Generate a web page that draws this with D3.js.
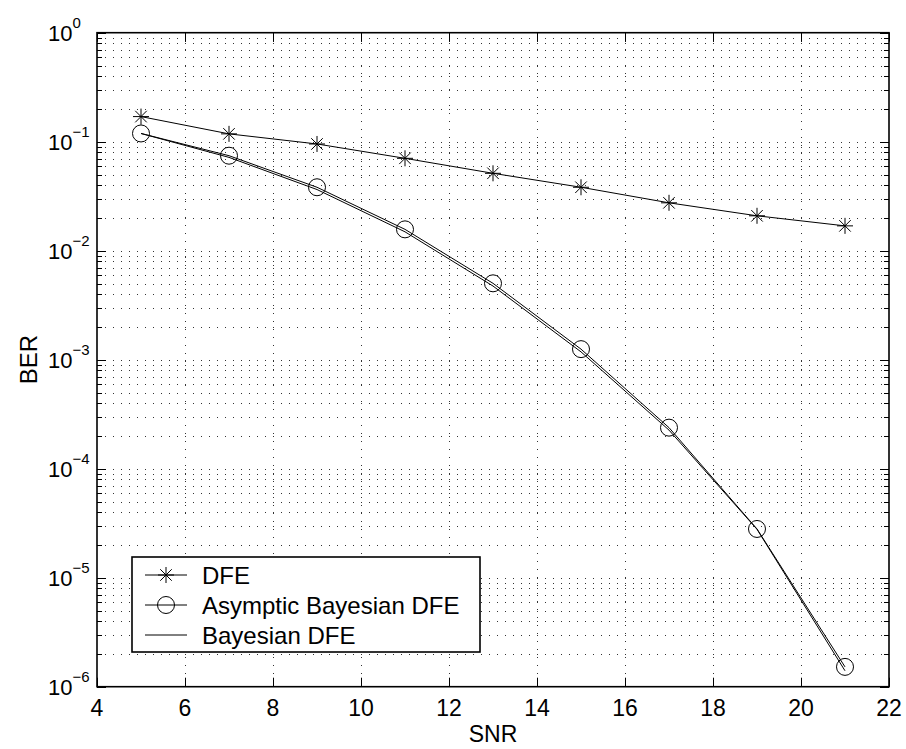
<!DOCTYPE html>
<html>
<head>
<meta charset="utf-8">
<script src="https://cdn.jsdelivr.net/npm/d3@7/dist/d3.min.js"></script>
<style>
  html, body { margin: 0; padding: 0; background: #fff; }
  svg text { font-family: "Liberation Sans", Arial, Helvetica, sans-serif; fill: #000; }
</style>
</head>
<body>
<svg id="chart" width="906" height="749"></svg>
<script>
// SNR points where BER was measured
const snr = [5, 7, 9, 11, 13, 15, 17, 19, 21];
// Conventional decision feedback equaliser
const berDFE = [0.170, 0.118, 0.0953, 0.0704, 0.0513, 0.0382, 0.0275, 0.0209, 0.0169];
// Asymptotic Bayesian DFE
const berAsym = [0.119, 0.0744, 0.0382, 0.0157, 0.00502, 0.00125, 0.000238, 2.80e-5, 1.52e-6];
// Full Bayesian DFE
const berBayes = [0.119, 0.0718, 0.0364, 0.0149, 0.00474, 0.00118, 0.000226, 2.78e-5, 1.40e-6];

const xTicks = [4, 6, 8, 10, 12, 14, 16, 18, 20, 22];
const yExponents = [0, -1, -2, -3, -4, -5, -6];
const legendLabels = ["DFE", "Asymptic Bayesian DFE", "Bayesian DFE"];

const svg = d3.select("#chart");
const L = 97, R = 889, T = 32.7, B = 686.7;

const x = d3.scaleLinear().domain([4, 22]).range([L, R]);
const y = d3.scaleLog().domain([1e-6, 1]).range([B, T]);

// minor + major decade values for log grid
const yGridVals = [];
for (let e = -6; e < 0; e++) {
  for (let m = 1; m <= 9; m++) yGridVals.push(m * Math.pow(10, e));
}
yGridVals.push(1);

const grid = svg.append("g").attr("stroke", "#333").attr("stroke-width", 1)
  .attr("stroke-dasharray", "1,7").attr("shape-rendering", "crispEdges");
grid.selectAll("line.h").data(yGridVals.filter(v => v > 1e-6 && v < 1)).enter()
  .append("line").attr("class", "h")
  .attr("x1", L).attr("x2", R)
  .attr("y1", d => Math.round(y(d)) + 0.5).attr("y2", d => Math.round(y(d)) + 0.5);
grid.selectAll("line.v").data(xTicks.filter(v => v > 4 && v < 22)).enter()
  .append("line").attr("class", "v")
  .attr("y1", T).attr("y2", B)
  .attr("x1", d => Math.round(x(d)) + 0.5).attr("x2", d => Math.round(x(d)) + 0.5);

// inward ticks on all four sides
const ticks = svg.append("g").attr("stroke", "#000").attr("stroke-width", 1);
xTicks.forEach(v => {
  const px = Math.round(x(v)) + 0.5;
  ticks.append("line").attr("x1", px).attr("x2", px).attr("y1", B).attr("y2", B - 9);
  ticks.append("line").attr("x1", px).attr("x2", px).attr("y1", T).attr("y2", T + 9);
});
yGridVals.forEach(v => {
  const py = Math.round(y(v)) + 0.5;
  const major = Math.abs(Math.log10(v) - Math.round(Math.log10(v))) < 1e-9;
  const len = major ? 9 : 5;
  ticks.append("line").attr("x1", L).attr("x2", L + len).attr("y1", py).attr("y2", py);
  ticks.append("line").attr("x1", R).attr("x2", R - len).attr("y1", py).attr("y2", py);
});

// data lines
const line = d3.line().x(d => x(d[0])).y(d => y(d[1]));
const lines = svg.append("g").attr("fill", "none").attr("stroke", "#000").attr("stroke-width", 1);
lines.append("path").attr("d", line(snr.map((s, i) => [s, berDFE[i]])));
lines.append("path").attr("d", line(snr.map((s, i) => [s, berAsym[i]])));
lines.append("path").attr("d", line(snr.map((s, i) => [s, berBayes[i]])));

// star marker
function starPath(cx, cy, r) {
  const d = r * 0.72;
  return `M${cx - r},${cy}L${cx + r},${cy}M${cx},${cy - r}L${cx},${cy + r}` +
    `M${cx - d},${cy - d}L${cx + d},${cy + d}M${cx - d},${cy + d}L${cx + d},${cy - d}`;
}
const marks = svg.append("g").attr("fill", "none").attr("stroke", "#000").attr("stroke-width", 1);
snr.forEach((s, i) => {
  marks.append("path").attr("d", starPath(x(s), y(berDFE[i]), 8));
  marks.append("circle").attr("cx", x(s)).attr("cy", y(berAsym[i])).attr("r", 8.5);
});

// axes box
svg.append("rect").attr("x", L).attr("y", T).attr("width", R - L).attr("height", B - T)
  .attr("fill", "none").attr("stroke", "#000").attr("stroke-width", 1.6);

// x tick labels
svg.append("g").selectAll("text").data(xTicks).enter().append("text")
  .attr("x", d => x(d)).attr("y", 716).attr("text-anchor", "middle")
  .attr("font-size", 23).text(d => d);

// y tick labels (powers of ten)
const yl = svg.append("g");
yExponents.forEach(e => {
  const py = y(Math.pow(10, e));
  const t = yl.append("text").attr("x", 48).attr("y", py + 8).attr("font-size", 22);
  t.append("tspan").text("10");
  t.append("tspan").attr("font-size", 15).attr("dy", -13).text(e === 0 ? "0" : "\u2212" + (-e));
});

// axis titles
svg.append("text").attr("x", (L + R) / 2).attr("y", 742).attr("text-anchor", "middle")
  .attr("font-size", 23).text("SNR");
svg.append("text").attr("transform", `translate(37,${(T + B) / 2}) rotate(-90)`)
  .attr("text-anchor", "middle").attr("font-size", 24).text("BER");

// legend
const lg = svg.append("g");
lg.append("rect").attr("x", 132).attr("y", 557).attr("width", 348).attr("height", 95)
  .attr("fill", "#fff").attr("stroke", "#000").attr("stroke-width", 1.6);
const rows = [575, 605, 635];
legendLabels.forEach((lab, i) => {
  const ry = rows[i];
  lg.append("line").attr("x1", 145).attr("x2", 187).attr("y1", ry).attr("y2", ry)
    .attr("stroke", "#000").attr("stroke-width", 1);
  if (i === 0) lg.append("path").attr("d", starPath(166, ry, 8)).attr("fill", "none").attr("stroke", "#000");
  if (i === 1) lg.append("circle").attr("cx", 166).attr("cy", ry).attr("r", 8.5).attr("fill", "none").attr("stroke", "#000");
  lg.append("text").attr("x", 202).attr("y", ry + 8.5).attr("font-size", 24).text(lab);
});
</script>
</body>
</html>
